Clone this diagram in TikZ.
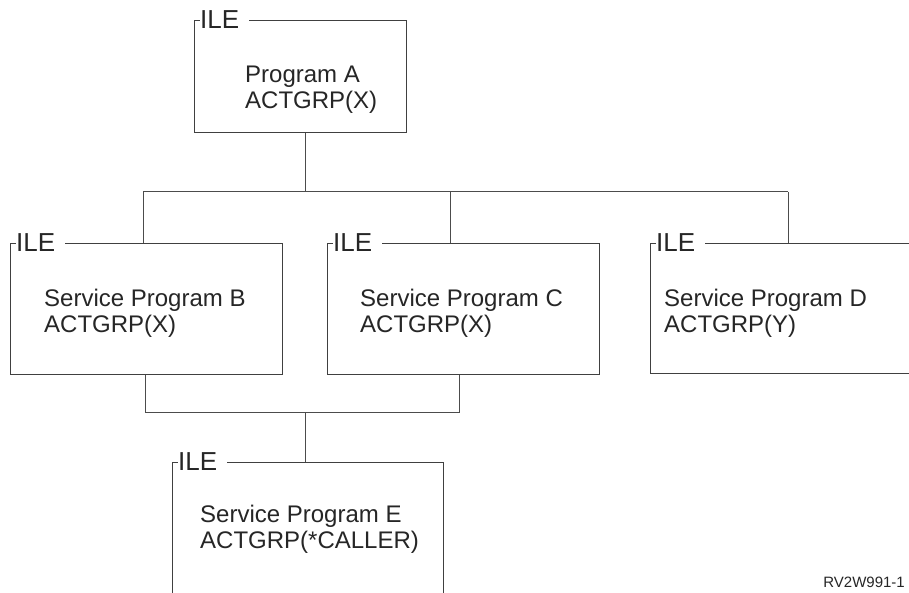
\documentclass[tikz,border=0pt]{standalone}
\usepackage{fontspec}
\setmainfont{Liberation Sans}
\usetikzlibrary{positioning}
\tikzset{
    every node/.style={
        font=\fontsize{24}{26}\selectfont,
        text=black!85
    },
    ilebox/.style={
        shape=rectangle,
        draw=black!75,
        line width=1pt,
        anchor=north west,
        inner sep=0pt
    },
    boxtext/.style={
        align=left,
        anchor=north west,
        inner sep=0pt
    },
    iletag/.style={
        fill=white,
        inner sep=0pt,
        anchor=west,
        font=\fontsize{26}{28}\selectfont
    }
}
\begin{document}
\begin{tikzpicture}[
            x=1pt, y=-1pt,
            link/.style={draw=black!70, line width=1pt}
            ]
            \clip (0, 0) rectangle (909, 593);
            \fill[white] (0, 0) rectangle (909, 593);

            \node (a) at (194, 20) [ilebox, minimum width=212pt, minimum height=112pt] {};
            \node (b) at (10, 243) [ilebox, minimum width=272pt, minimum height=131pt] {};
            \node (c) at (327, 243) [ilebox, minimum width=272pt, minimum height=131pt] {};
            \node (d) at (650, 243) [ilebox, minimum width=280pt, minimum height=130pt] {};
            \node (e) at (172, 462) [ilebox, minimum width=271pt, minimum height=150pt] {};

            \node (ta) at (200, 20) [iletag] {ILE\kern10pt};
            \node (tb) at (16, 243) [iletag] {ILE\kern10pt};
            \node (tc) at (333, 243) [iletag] {ILE\kern10pt};
            \node (td) at (656, 243) [iletag] {ILE\kern10pt};
            \node (te) at (178, 462) [iletag] {ILE\kern10pt};

            \node (pa) at (245, 66) [boxtext] {Program A\\ACTGRP(X)};
            \node (pb) at (44, 289) [boxtext] {Service Program B\\ACTGRP(X)};
            \node (pc) at (360, 289) [boxtext] {Service Program C\\ACTGRP(X)};
            \node (pd) at (664, 289) [boxtext] {Service Program D\\ACTGRP(Y)};
            \node (pe) at (200, 505) [boxtext] {Service Program E\\ACTGRP(*CALLER)};

            \coordinate (top) at (305, 192);
            \coordinate (jb) at (143, 192);
            \coordinate (jc) at (450, 192);
            \coordinate (jd) at (788, 192);
            \coordinate (low) at (305, 412);
            \coordinate (kb) at (145, 412);
            \coordinate (kc) at (459, 412);

            \draw [link] (a.south -| top) -- (top);
            \draw [link] (jb) -- (jd);
            \draw [link] (jb) -- (jb |- b.north);
            \draw [link] (jc) -- (jc |- c.north);
            \draw [link] (jd) -- (jd |- d.north);
            \draw [link] (b.south -| kb) -- (kb) -- (kc) -- (c.south -| kc);
            \draw [link] (low) -- (low |- e.north);

            \node (fig) at (905, 588) [anchor=south east, inner sep=0pt, font=\fontsize{15}{17}\selectfont] {RV2W991-1};
        \end{tikzpicture}
\end{document}
